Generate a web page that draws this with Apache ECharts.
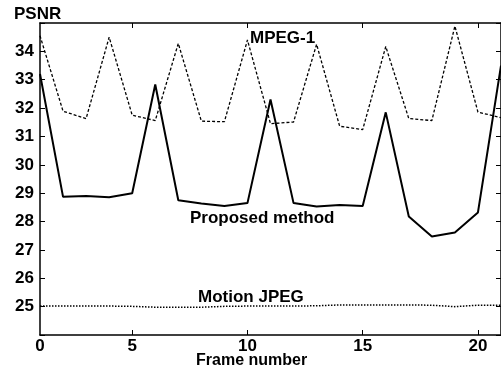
<!DOCTYPE html>
<html><head><meta charset="utf-8">
<script src="https://cdn.jsdelivr.net/npm/echarts@6/dist/echarts.min.js"></script>
<style>html,body{margin:0;padding:0;background:#fff}#c{width:501px;height:376px}</style>
</head><body><div id="c"></div>
<script>
const frames = [1,2,3,4,5,6,7,8,9,10,11,12,13,14,15,16,17,18,19,20,21];
const mpeg1 = [34.55,31.89,31.63,34.5,31.75,31.56,34.28,31.54,31.52,34.4,31.45,31.51,34.25,31.36,31.24,34.17,31.63,31.56,34.89,31.86,31.66];
const proposed = [33.2,28.87,28.9,28.86,29.0,32.83,28.75,28.64,28.55,28.65,32.3,28.65,28.53,28.58,28.55,31.85,28.18,27.47,27.61,28.32,33.5];
const motionJpeg = [25.02,25.02,25.02,25.02,25.01,24.98,24.98,24.98,25.01,25.02,25.02,25.02,25.03,25.06,25.06,25.06,25.06,25.05,25.0,25.05,25.05];
const xTickValues = [1,5,10,15,20];
const xTickLabels = ['0','5','10','15','20'];
const yTickValues = [25,26,27,28,29,30,31,32,33,34];

const FONT = '"Liberation Sans", Arial, sans-serif';
const chart = echarts.init(document.getElementById('c'), null, {renderer:'canvas'});
const pair = (xs, ys) => xs.map((x,i)=>[x, ys[i]]);
chart.setOption({
  animation:false,
  backgroundColor:'#fff',
  grid:{left:40, right:-3, top:23, bottom:41},
  xAxis:[{
    type:'value', min:1, max:21, position:'bottom',
    axisLine:{show:true, onZero:false, lineStyle:{color:'#000', width:1.5}},
    axisTick:{show:true, inside:true, length:5, customValues:xTickValues.slice(1), lineStyle:{color:'#000'}},
    axisLabel:{show:true, customValues:xTickValues, margin:3, color:'#000', fontFamily:FONT, fontWeight:'bold', fontSize:17,
      formatter:v=>{const i = xTickValues.indexOf(v); return i>=0 ? xTickLabels[i] : '';}},
    splitLine:{show:false}
  },{
    type:'value', min:1, max:21, position:'top',
    axisLine:{show:true, onZero:false, lineStyle:{color:'#000', width:1.5}},
    axisTick:{show:true, inside:true, length:5, customValues:xTickValues.slice(1), lineStyle:{color:'#000'}},
    axisLabel:{show:false}, splitLine:{show:false}
  }],
  yAxis:[{
    type:'value', min:24, max:35, interval:1, position:'left',
    axisLine:{show:true, onZero:false, lineStyle:{color:'#000', width:1.5}},
    axisTick:{show:true, inside:true, length:5, lineStyle:{color:'#000'}},
    axisLabel:{show:true, margin:6, color:'#000', fontFamily:FONT, fontWeight:'bold', fontSize:17,
      formatter:v=> yTickValues.indexOf(v)>=0 ? String(v) : ''},
    splitLine:{show:false}
  },{
    type:'value', min:24, max:35, interval:1, position:'right',
    axisLine:{show:true, onZero:false, lineStyle:{color:'#000', width:1.5}},
    axisTick:{show:true, inside:true, length:5, lineStyle:{color:'#000'}},
    axisLabel:{show:false}, splitLine:{show:false}
  }],
  series:[
    {name:'MPEG-1', type:'line', data:pair(frames, mpeg1), symbol:'none',
     lineStyle:{color:'#000', width:1.3, type:[3,2]}},
    {name:'Proposed method', type:'line', data:pair(frames, proposed), symbol:'none',
     lineStyle:{color:'#000', width:2}},
    {name:'Motion JPEG', type:'line', data:pair(frames, motionJpeg), symbol:'none',
     lineStyle:{color:'#000', width:1.5, type:[1.5,1.5]}}
  ],
  graphic:[
    {type:'text', left:14, top:6, style:{text:'PSNR', fill:'#000', font:'bold 17px '+FONT}},
    {type:'text', left:196, top:353, style:{text:'Frame number', fill:'#000', font:'bold 16px '+FONT}},
    {type:'text', left:250, top:30, style:{text:'MPEG-1', fill:'#000', font:'bold 17px '+FONT}},
    {type:'text', left:190, top:210, style:{text:'Proposed method', fill:'#000', font:'bold 17px '+FONT}},
    {type:'text', left:198, top:289, style:{text:'Motion JPEG', fill:'#000', font:'bold 17px '+FONT}}
  ]
});
</script></body></html>
